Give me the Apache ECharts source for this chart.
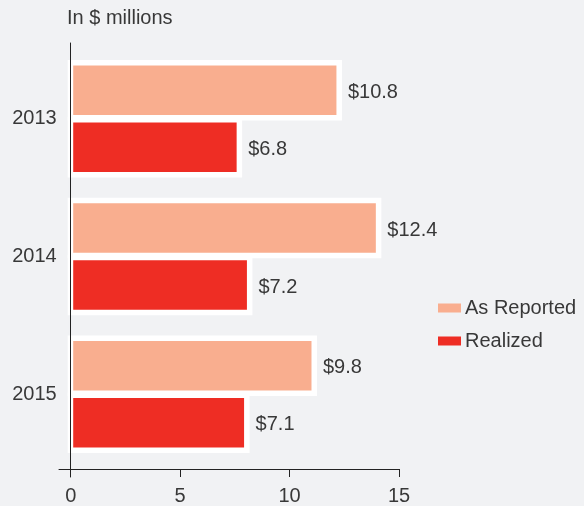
<!DOCTYPE html>
<html>
<head>
<meta charset="utf-8">
<script src="https://cdn.jsdelivr.net/npm/echarts@6/dist/echarts.min.js"></script>
<style>
html,body{margin:0;padding:0;background:#f1f2f4;}
#chart{width:584px;height:506px;}
</style>
</head>
<body>
<div id="chart"></div>
<script>
// Categories (top to bottom)
var categories = ['2013', '2014', '2015'];
// Bar lengths as drawn (outer edge incl. white frame), in axis units
var asReported = [12.53, 14.33, 11.39];
var realized = [7.97, 8.44, 8.31];
// Value labels printed next to the bars
var asReportedLabels = ['$10.8', '$12.4', '$9.8'];
var realizedLabels = ['$6.8', '$7.2', '$7.1'];
// X axis ticks
var xMin = 0, xMax = 15, xInterval = 5;
var seriesNames = ['As Reported', 'Realized'];
var colors = ['#f9ae8f', '#ee2d24'];

var font = '"Liberation Sans", Arial, Helvetica, sans-serif';
var textColor = '#383838';
var axisColor = '#222';

// layout
var plotLeft = 70.7, plotWidth = 328.3, frameOut = 3;   // white frame sticks out left of the axis
var pxPerUnit = plotWidth / (xMax - xMin);

var chart = echarts.init(document.getElementById('chart'));
chart.setOption({
  backgroundColor: '#f1f2f4',
  animation: false,
  textStyle: {fontFamily: font},
  title: {
    text: 'In $ millions',
    left: 67, top: 8, padding: 0,
    textStyle: {fontFamily: font, fontSize: 20, fontWeight: 'normal', color: textColor}
  },
  legend: {
    orient: 'vertical',
    left: 438, top: 298, padding: 0,
    itemWidth: 23, itemHeight: 9, itemGap: 13,
    icon: 'rect',
    itemStyle: {borderWidth: 0},
    textStyle: {fontFamily: font, fontSize: 20, color: textColor, padding: [0, 0, 0, -1]},
    data: seriesNames
  },
  grid: [
    {left: plotLeft, width: plotWidth, top: 50, bottom: 43},
    {left: 70.5, width: 100, top: 43, bottom: 29},
    {left: 59, right: 185, top: 43, bottom: 37},
    {left: plotLeft - frameOut, width: plotWidth + frameOut, top: 50, bottom: 43}
  ],
  xAxis: [
    {
      gridIndex: 0, type: 'value', min: xMin, max: xMax, interval: xInterval,
      offset: 6,
      axisLine: {show: false},
      axisTick: {show: true, length: 8, lineStyle: {color: axisColor, width: 1}},
      axisLabel: {margin: 17, fontFamily: font, fontSize: 20, color: textColor},
      splitLine: {show: false}
    },
    {gridIndex: 1, type: 'value', show: false},
    {
      gridIndex: 2, type: 'value', min: 0, max: 1, z: 5,
      axisLine: {show: true, lineStyle: {color: axisColor, width: 1}},
      axisTick: {show: false}, axisLabel: {show: false}, splitLine: {show: false}
    },
    {gridIndex: 3, type: 'value', min: 0, max: xMax + frameOut / pxPerUnit, show: false}
  ],
  yAxis: [
    {
      gridIndex: 0, type: 'category', data: categories, inverse: true,
      axisLine: {show: false}, axisTick: {show: false},
      axisLabel: {margin: 14, fontFamily: font, fontSize: 20, color: textColor}
    },
    {
      gridIndex: 1, type: 'value', min: 0, max: 1, z: 5,
      axisLine: {show: true, lineStyle: {color: axisColor, width: 1}},
      axisTick: {show: false}, axisLabel: {show: false}, splitLine: {show: false}
    },
    {gridIndex: 2, type: 'value', show: false},
    {gridIndex: 3, type: 'category', data: categories, inverse: true, show: false}
  ],
  series: [
    {
      name: seriesNames[0], type: 'bar', xAxisIndex: 3, yAxisIndex: 3,
      data: asReported, barWidth: 60.5, barGap: '-5.8%',
      itemStyle: {color: colors[0], borderColor: '#ffffff', borderWidth: 5.5},
      label: {
        show: true, position: 'right', distance: 6, offset: [0, 2],
        fontFamily: font, fontSize: 20, color: textColor,
        formatter: function (p) { return asReportedLabels[p.dataIndex]; }
      }
    },
    {
      name: seriesNames[1], type: 'bar', xAxisIndex: 3, yAxisIndex: 3,
      data: realized, barWidth: 60.5, barGap: '-5.8%',
      itemStyle: {color: colors[1], borderColor: '#ffffff', borderWidth: 5.5},
      label: {
        show: true, position: 'right', distance: 6, offset: [0, 2],
        fontFamily: font, fontSize: 20, color: textColor,
        formatter: function (p) { return realizedLabels[p.dataIndex]; }
      }
    }
  ]
});
</script>
</body>
</html>
